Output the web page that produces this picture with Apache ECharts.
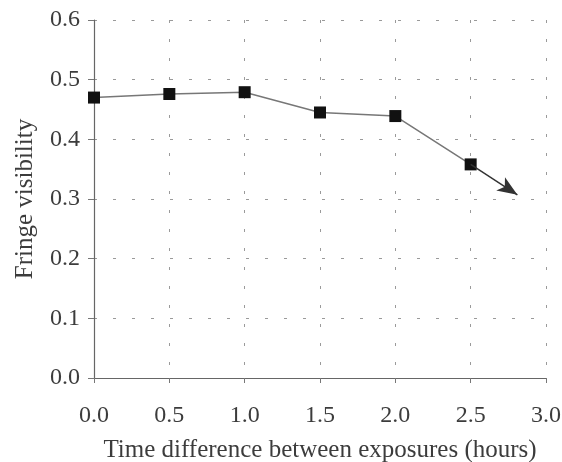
<!DOCTYPE html>
<html><head><meta charset="utf-8">
<script src="https://cdn.jsdelivr.net/npm/echarts@6/dist/echarts.min.js"></script>
<style>html,body{margin:0;padding:0;background:#fff}#c{width:562px;height:462px}</style>
</head><body><div id="c"></div>
<script>
const xValues = [0.0, 0.5, 1.0, 1.5, 2.0, 2.5];
const visibility = [0.470, 0.476, 0.479, 0.445, 0.439, 0.358];
const arrowTip = [2.81, 0.307];
const xTicks = [0.0, 0.5, 1.0, 1.5, 2.0, 2.5, 3.0];
const yTicks = [0.0, 0.1, 0.2, 0.3, 0.4, 0.5, 0.6];

const font = '"Liberation Serif", "DejaVu Serif", serif';
const textColor = '#3c3c3c';
const gridStyle = {color: '#9a9a9a', width: 1, type: [3, 16]};

const chart = echarts.init(document.getElementById('c'));
chart.setOption({
  animation: false,
  backgroundColor: '#fff',
  grid: {left: 94, right: 16, top: 20, bottom: 84, containLabel: false, outerBoundsMode: 'none'},
  xAxis: {
    type: 'value', min: xTicks[0], max: xTicks[xTicks.length-1], interval: 0.5,
    name: 'Time difference between exposures (hours)',
    nameLocation: 'middle', nameGap: 60,
    nameTextStyle: {fontFamily: font, fontSize: 25, color: textColor},
    axisLine: {show: true, lineStyle: {color: '#666', width: 1.2}},
    axisTick: {show: true, inside: false, length: 5, lineStyle: {color: '#777'}},
    axisLabel: {fontFamily: font, fontSize: 24, color: textColor, margin: 26,
      formatter: v => v.toFixed(1)},
    splitLine: {show: true, lineStyle: gridStyle}
  },
  yAxis: {
    type: 'value', min: yTicks[0], max: yTicks[yTicks.length-1], interval: 0.1,
    name: 'Fringe visibility',
    nameLocation: 'middle', nameGap: 56,
    nameTextStyle: {fontFamily: font, fontSize: 25, color: textColor},
    axisLine: {show: true, lineStyle: {color: '#666', width: 1.2}},
    axisTick: {show: true, inside: false, length: 6, lineStyle: {color: '#777'}},
    axisLabel: {fontFamily: font, fontSize: 24, color: textColor, margin: 14,
      formatter: v => v.toFixed(1)},
    splitLine: {show: true, lineStyle: gridStyle}
  },
  series: [{
    type: 'line',
    data: xValues.map((x, i) => [x, visibility[i]]),
    symbol: 'rect', symbolSize: 12,
    itemStyle: {color: '#111'},
    lineStyle: {color: '#777', width: 1.5},
    markLine: {
      silent: true,
      symbol: ['none', 'arrow'], symbolSize: [12, 20],
      label: {show: false},
      lineStyle: {color: '#333', width: 1.5, type: 'solid'},
      data: [[{coord: [xValues[xValues.length-1], visibility[visibility.length-1]]}, {coord: arrowTip}]]
    }
  }]
});
</script></body></html>
